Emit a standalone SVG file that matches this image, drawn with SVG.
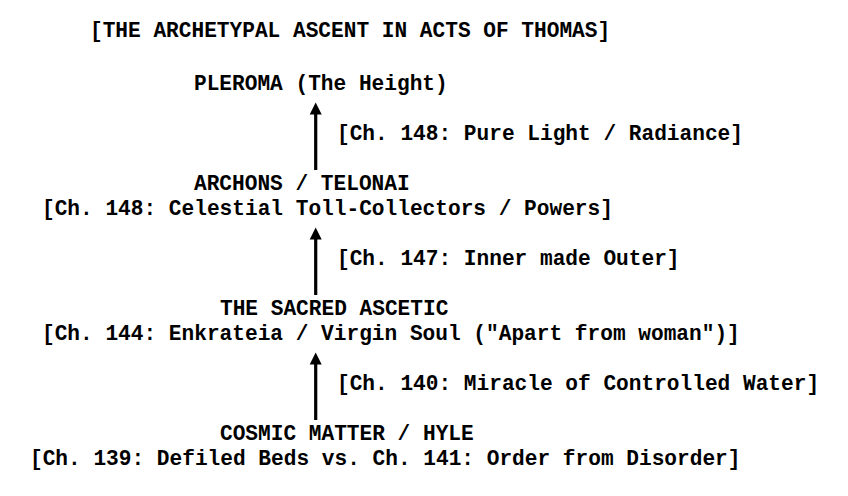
<svg xmlns="http://www.w3.org/2000/svg" width="848" height="496" viewBox="0 0 848 496">
  <style>
    text { font-family: "Courier New", "Liberation Mono", monospace; font-weight: bold; font-size: 21.15px; fill: #000; }
    .conn line { stroke: #000; stroke-width: 3.2; }
    .conn polygon { fill: #000; }
  </style>
  <rect width="848" height="496" fill="#fff"/>
  <g id="title"><text x="90" y="37">[THE ARCHETYPAL ASCENT IN ACTS OF THOMAS]</text></g>
  <g id="pleroma"><text x="194" y="90">PLEROMA (The Height)</text></g>
  <g id="archons">
    <text x="194" y="190">ARCHONS / TELONAI</text>
    <text x="42" y="215">[Ch. 148: Celestial Toll-Collectors / Powers]</text>
  </g>
  <g id="ascetic">
    <text x="220" y="315">THE SACRED ASCETIC</text>
    <text x="42" y="340">[Ch. 144: Enkrateia / Virgin Soul ("Apart from woman")]</text>
  </g>
  <g id="matter">
    <text x="220" y="440">COSMIC MATTER / HYLE</text>
    <text x="30" y="465">[Ch. 139: Defiled Beds vs. Ch. 141: Order from Disorder]</text>
  </g>
  <g id="connectors" class="conn">
    <line x1="315.7" y1="170" x2="315.7" y2="112"/>
    <polygon points="315.7,102.5 309.7,114.5 321.7,114.5"/>
    <text x="337" y="140">[Ch. 148: Pure Light / Radiance]</text>
    <line x1="315.7" y1="295" x2="315.7" y2="237"/>
    <polygon points="315.7,227.5 309.7,239.5 321.7,239.5"/>
    <text x="337" y="265">[Ch. 147: Inner made Outer]</text>
    <line x1="315.7" y1="420" x2="315.7" y2="362"/>
    <polygon points="315.7,352.5 309.7,364.5 321.7,364.5"/>
    <text x="337" y="390">[Ch. 140: Miracle of Controlled Water]</text>
  </g>
</svg>
